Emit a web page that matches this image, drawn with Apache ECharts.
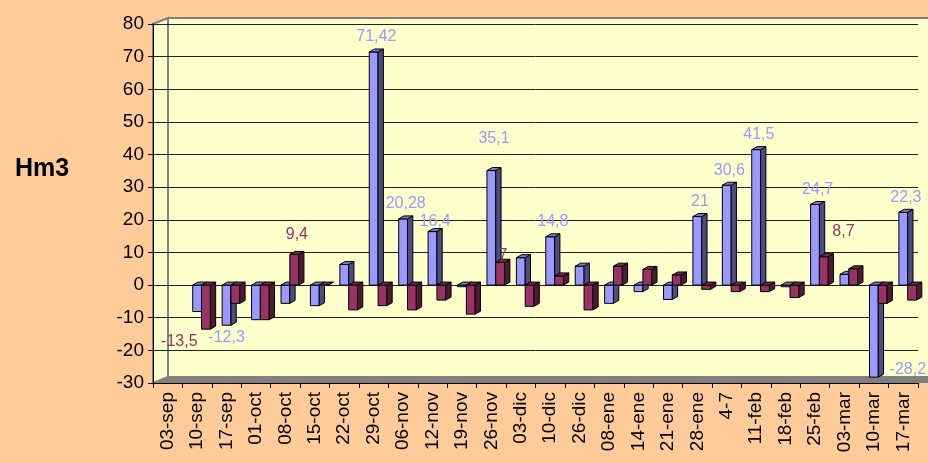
<!DOCTYPE html>
<html>
<head>
<meta charset="utf-8">
<script src="https://cdn.jsdelivr.net/npm/echarts@6/dist/echarts.min.js"></script>
<style>
  html, body { margin: 0; padding: 0; background: #FFCC99; }
  #chart { width: 928px; height: 463px; }
</style>
</head>
<body>
<div id="chart"></div>
<script>
// semanas
var categories = ['03-sep', '10-sep', '17-sep', '01-oct', '08-oct', '15-oct', '22-oct', '29-oct',
  '06-nov', '12-nov', '19-nov', '26-nov', '03-dic', '10-dic', '26-dic', '08-ene', '14-ene',
  '21-ene', '28-ene', '4-7', '11-feb', '18-feb', '25-feb', '03-mar', '10-mar', '17-mar'];

var blueValues = [null, -8.1, -12.3, -10.6, -5.6, -6.3, 6.3, 71.42, 20.28, 16.4, -0.5, 35.1, 8.4,
  14.8, 5.8, -5.6, -2, -4.4, 21, 30.6, 41.5, -0.5, 24.7, 3.3, -28.2, 22.3];

var maroonValues = [null, -13.5, -5.6, -10.6, 9.4, 0, -7.6, -6.3, -7.6, -4.6, -8.9, 7, -6.5,
  2.8, -7.6, 5.8, 4.8, 3.1, -1.3, -2, -2, -3.8, 8.7, 5, -5.6, -4.6];

// which bars carry a value label
var blueLabelled = [2, 7, 8, 9, 11, 13, 18, 19, 20, 22, 24, 25];
var maroonLabelled = [1, 4, 11, 22];

var yTicks = { min: -30, max: 80, interval: 10 };

// small label shifts (px) so they sit where the original put them
var blueNudge = { 9: [0, 5], 11: [0, -17] };
var maroonNudge = { 4: [0, -5], 11: [0, 8], 22: [17, -10] };

var chart = echarts.init(document.getElementById('chart'));

function fmt(v) {
  return String(v).replace('.', ',');
}

// clustered column drawn with a little depth, like the old 3D office charts
function bar3d(offset, front, side, top, labelled, labelColor, negLeft, nudge) {
  return function (params, api) {
    var v = api.value(1);
    if (v == null || isNaN(v)) return;
    var base = api.coord([api.value(0), 0]);
    var end = api.coord([api.value(0), v]);
    var bw = api.size([1, 0])[0];
    var w = 0.3 * bw;
    var dx = 0.18 * bw;
    var dy = 3;
    var x0 = base[0] + offset * bw;
    var x1 = x0 + w;
    var yTop = Math.min(base[1], end[1]);
    var yBot = Math.max(base[1], end[1]);
    var cs = params.coordSys;
    var line = { stroke: '#000', lineWidth: 1 };
    var children = [
      {
        type: 'polygon',
        shape: { points: [[x1, yTop], [x1 + dx, yTop - dy], [x1 + dx, yBot - dy], [x1, yBot]] },
        style: Object.assign({ fill: side }, line)
      },
      {
        type: 'polygon',
        shape: { points: [[x0, yTop], [x0 + dx, yTop - dy], [x1 + dx, yTop - dy], [x1, yTop]] },
        style: Object.assign({ fill: top }, line)
      }
    ];
    if (yBot - yTop > 0.5) {
      children.unshift({
        type: 'rect',
        shape: { x: x0, y: yTop, width: w, height: yBot - yTop },
        style: Object.assign({ fill: front }, line)
      });
    }
    if (labelled.indexOf(params.dataIndex) >= 0) {
      var txt = { text: fmt(v), fill: labelColor, font: '16px "Liberation Sans", Arial, sans-serif' };
      if (v >= 0) {
        Object.assign(txt, { x: x0 + w / 2 + dx / 2, y: yTop - dy - 4, align: 'center', verticalAlign: 'bottom' });
      } else if (yBot + 20 > cs.y + cs.height) {
        Object.assign(txt, { x: x1 + dx + 6, y: yBot, align: 'left', verticalAlign: 'bottom' });
      } else if (negLeft) {
        Object.assign(txt, { x: x0 - 4, y: yBot + 4, align: 'right', verticalAlign: 'top' });
      } else {
        Object.assign(txt, { x: x0 + w / 2, y: yBot + 4, align: 'center', verticalAlign: 'top' });
      }
      var n = nudge[params.dataIndex];
      if (n) {
        txt.x += n[0];
        txt.y += n[1];
      }
      children.push({ type: 'text', style: txt, z2: 10 });
    }
    return { type: 'group', children: children };
  };
}

var wall = { fill: '#FFFFCC', stroke: '#808080', lineWidth: 2 };

chart.setOption({
  backgroundColor: '#FFCC99',
  animation: false,
  title: {
    text: 'Hm3',
    left: 10,
    top: 152,
    textStyle: { fontSize: 25, fontWeight: 'bold', color: '#000', fontFamily: 'Liberation Sans' }
  },
  graphic: [
    { type: 'rect', z: -10, silent: true, shape: { x: 168, y: 18, width: 770, height: 359 }, style: wall },
    { type: 'polygon', z: -10, silent: true, shape: { points: [[153, 24], [168, 18], [168, 377], [153, 383]] }, style: wall },
    { type: 'polygon', z: -9, silent: true, shape: { points: [[153, 383], [168, 376], [928, 376], [928, 383]] }, style: { fill: '#808080' } }
  ],
  grid: {
    left: 153,
    right: 10,
    top: 24,
    bottom: 80,
    show: false
  },
  xAxis: {
    type: 'category',
    data: categories,
    boundaryGap: true,
    axisLine: { onZero: false, lineStyle: { color: '#000' } },
    axisTick: { show: true, lineStyle: { color: '#000' }, length: 5 },
    axisLabel: {
      rotate: 90,
      interval: 0,
      fontSize: 19,
      color: '#000',
      fontFamily: 'Liberation Sans',
      margin: 9
    }
  },
  yAxis: {
    type: 'value',
    min: yTicks.min,
    max: yTicks.max,
    interval: yTicks.interval,
    axisLine: { show: true, lineStyle: { color: '#000' } },
    axisTick: { show: true, lineStyle: { color: '#000' }, length: 5 },
    axisLabel: { fontSize: 19, color: '#000', fontFamily: 'Liberation Sans', margin: 9 },
    splitLine: { show: true, lineStyle: { color: '#222', width: 1 } }
  },
  series: [
    {
      type: 'custom',
      name: 'azul',
      renderItem: bar3d(-0.15, '#9999FF', '#4C4C80', '#7A7ACC', blueLabelled, '#9999FF', false, blueNudge),
      encode: { x: 0, y: 1 },
      data: blueValues.map(function (v, i) { return [i, v]; }),
      z: 2
    },
    {
      type: 'custom',
      name: 'granate',
      renderItem: bar3d(0.15, '#993366', '#4D1A33', '#7A2952', maroonLabelled, '#993366', true, maroonNudge),
      encode: { x: 0, y: 1 },
      data: maroonValues.map(function (v, i) { return [i, v]; }),
      z: 3
    }
  ]
});
</script>
</body>
</html>
